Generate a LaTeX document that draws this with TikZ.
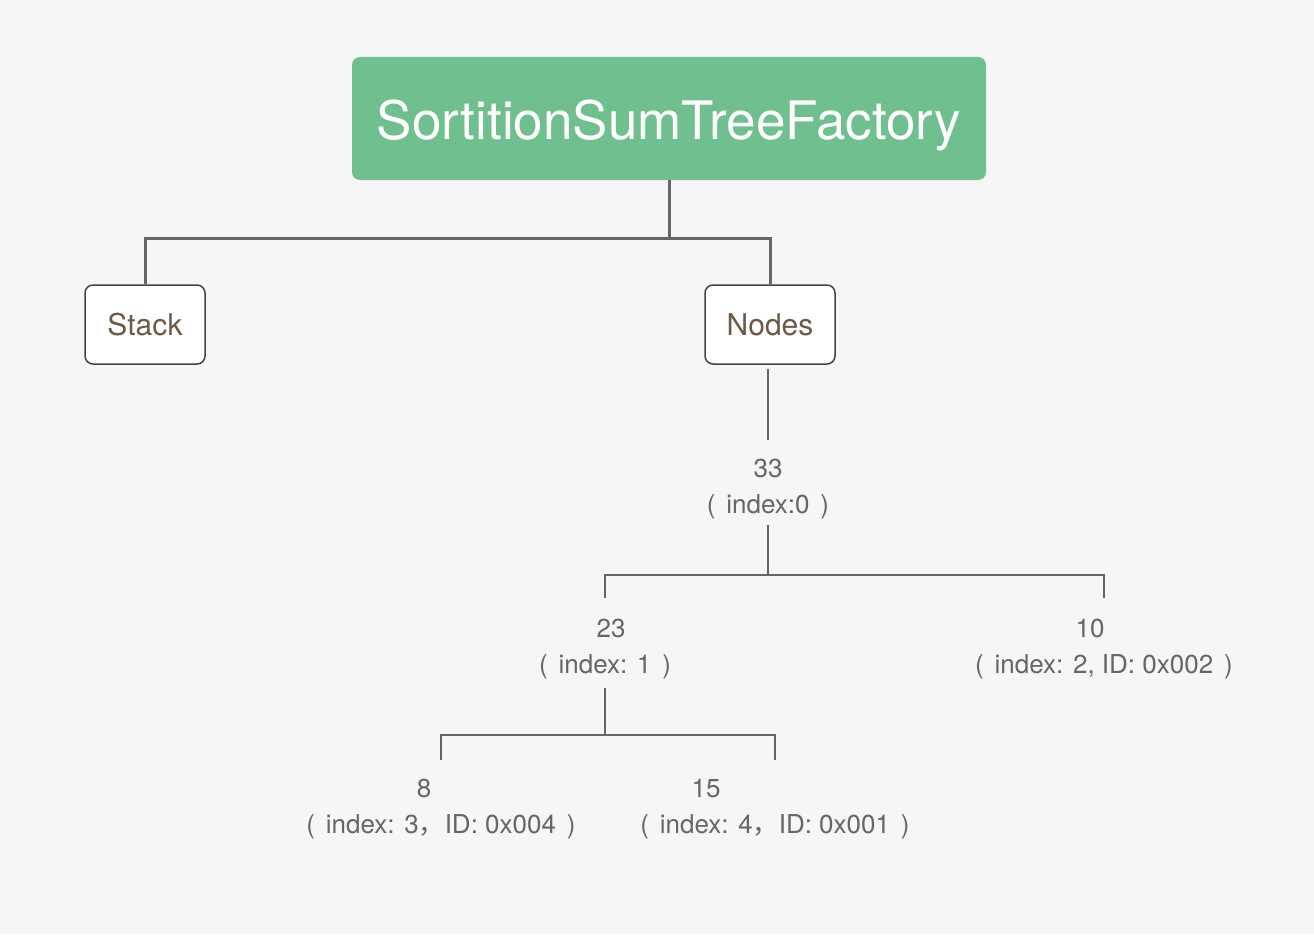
\documentclass[tikz,border=0pt]{standalone}
\usepackage{fontspec}
\setmainfont{TeX Gyre Heros}
\newfontfamily\cjk{Noto Sans CJK SC}
\definecolor{bg}{HTML}{F6F6F6}
\definecolor{green}{HTML}{70BF8F}
\definecolor{ln}{HTML}{666666}
\definecolor{txt}{HTML}{666666}
\definecolor{brown}{HTML}{6B5A45}
\definecolor{bord}{HTML}{444444}
\tikzset{
  topbox/.style={fill=green, rounded corners=8pt, minimum width=634pt, minimum height=123pt, inner sep=0pt, text=white, font=\fontsize{53}{60}\selectfont},
  subbox/.style={fill=white, draw=bord, line width=1.5pt, rounded corners=8pt, minimum height=79pt, inner sep=0pt, text=brown, font=\fontsize{30}{34}\selectfont},
  lbl/.style={text=txt, align=center, font=\fontsize{26}{36}\selectfont, inner sep=0pt},
  thick conn/.style={draw=ln, line width=3pt},
  thin conn/.style={draw=ln, line width=2pt},
}
\newcommand{\gapsp}{\hspace{0.42em}}
\begin{document}
\begin{tikzpicture}[x=1pt,y=-1pt]
\fill[bg] (0,0) rectangle (1314,934);
\useasboundingbox (0,0) rectangle (1314,934);
\node[topbox, text depth=0pt] (top) at (669,118.5) {\raisebox{-2pt}{SortitionSumTreeFactory}};
\node[subbox, minimum width=120pt] (stack) at (145,324.5) {\raisebox{-5pt}{Stack}};
\node[subbox, minimum width=130pt] (nodes) at (770,324.5) {\raisebox{-5pt}{Nodes}};
\coordinate (j1) at (669,238);
\draw[thick conn] (top.south -| j1) -- (j1);
\draw[thick conn] (stack.north) |- (j1) -| (nodes.north);

\node[lbl] (n0) at (768,489) {33\\(\gapsp index:0\gapsp )};
\node[lbl] (n1) at (605,649) {\hspace*{12pt}23\\(\gapsp index: 1\gapsp )};
\node[lbl] (n2) at (1104,649) {\hspace*{-28pt}10\\(\gapsp index: 2, ID: 0x002\gapsp )};
\node[lbl] (n3) at (441,809) {\hspace*{-34pt}8\\(\gapsp index: 3{\cjk ，}ID: 0x004\gapsp )};
\node[lbl] (n4) at (775,809) {\hspace*{-138pt}15\\(\gapsp index: 4{\cjk ，}ID: 0x001\gapsp )};

\coordinate (a0) at (768,369);
\coordinate (b0) at (768,440);
\draw[draw=ln, line width=1.5pt] (a0) -- (b0);

\coordinate (c0) at (768,525);
\coordinate (j2) at (768,575);
\coordinate (d1) at (605,598);
\coordinate (d2) at (1104,598);
\draw[thin conn] (c0) -- (j2);
\draw[thin conn] (d1) |- (j2) -| (d2);

\coordinate (c1) at (605,688);
\coordinate (j3) at (605,735);
\coordinate (e1) at (441,760);
\coordinate (e2) at (775,760);
\draw[thin conn] (c1) -- (j3);
\draw[thin conn] (e1) |- (j3) -| (e2);
\end{tikzpicture}
\end{document}
